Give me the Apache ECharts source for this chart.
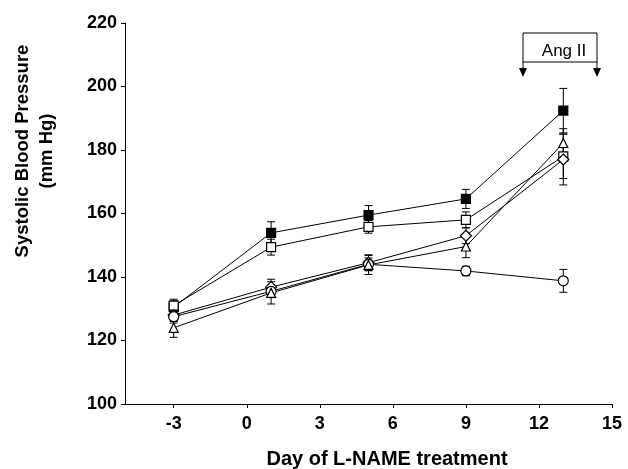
<!DOCTYPE html>
<html><head><meta charset="utf-8">
<script src="https://cdn.jsdelivr.net/npm/echarts@6/dist/echarts.min.js"></script>
<style>html,body{margin:0;padding:0;background:#fff}#c{width:628px;height:469px}</style>
</head><body><div id="c"></div>
<script>
var days = [-3, 1, 5, 9, 13];
var xTicks = [-3, 0, 3, 6, 9, 12, 15];
var filledSquare = [130.5, 153.9, 159.5, 164.6, 192.4];
var filledSquareErr = [2, 3.5, 3, 3, 7];
var openSquare = [131, 149.4, 155.8, 158, 178];
var openSquareErr = [2, 2.5, 2, 2.5, 7];
var diamond = [128, 136.8, 144.5, 153, 177];
var diamondErr = [2, 2.5, 2.5, 2.5, 8];
var circle = [127.5, 135.5, 144, 141.9, 138.8];
var circleErr = [2, 2, 2, 1.5, 3.6];
var triangle = [124, 135, 143.8, 149.6, 182.2];
var triangleErr = [3, 3.5, 3, 3.5, 4.5];

var groups = [
  {name:'LN', vals:filledSquare, err:filledSquareErr, symbol:'rect', size:9, fill:'#000'},
  {name:'LN2', vals:openSquare, err:openSquareErr, symbol:'rect', size:9, fill:'#fff'},
  {name:'LN3', vals:diamond, err:diamondErr, symbol:'diamond', size:11, fill:'#fff'},
  {name:'C', vals:circle, err:circleErr, symbol:'circle', size:10, fill:'#fff'},
  {name:'LN4', vals:triangle, err:triangleErr, symbol:'triangle', size:9, fill:'#fff'}
];

var series = [];
groups.forEach(function(g){
  var ebData = days.map(function(d,i){ return [d, g.vals[i]-g.err[i], g.vals[i]+g.err[i]]; });
  series.push({
    type:'custom', name:g.name+'_err', silent:true, z:1,
    data: ebData,
    encode:{x:0, y:[1,2]},
    renderItem:function(params, api){
      var x = api.value(0);
      var lo = api.coord([x, api.value(1)]);
      var hi = api.coord([x, api.value(2)]);
      var w = 4;
      var st = {stroke:'#000', lineWidth:1};
      return {type:'group', children:[
        {type:'line', shape:{x1:lo[0],y1:lo[1],x2:hi[0],y2:hi[1]}, style:st},
        {type:'line', shape:{x1:lo[0]-w,y1:lo[1],x2:lo[0]+w,y2:lo[1]}, style:st},
        {type:'line', shape:{x1:hi[0]-w,y1:hi[1],x2:hi[0]+w,y2:hi[1]}, style:st}
      ]};
    }
  });
  series.push({
    type:'line', name:g.name, z:3,
    data: days.map(function(d,i){ return [d, g.vals[i]]; }),
    symbol:g.symbol, symbolSize:g.size, showAllSymbol:true,
    lineStyle:{color:'#000', width:1},
    itemStyle:{color:g.fill, borderColor:'#000', borderWidth:1.2},
    emphasis:{disabled:true}, animation:false
  });
});

var chart = echarts.init(document.getElementById('c'));
chart.setOption({
  backgroundColor:'#fff',
  animation:false,
  grid:{left:125, right:16, top:23, bottom:65, containLabel:false},
  xAxis:{
    type:'value', min:-5, max:15,
    axisLine:{show:true, onZero:false, lineStyle:{color:'#000', width:1}},
    axisTick:{show:true, customValues:xTicks, length:4, lineStyle:{color:'#000'}},
    axisLabel:{customValues:xTicks, color:'#000', fontFamily:'Liberation Sans, Arial', fontWeight:'bold', fontSize:18, margin:11},
    splitLine:{show:false}
  },
  yAxis:{
    type:'value', min:100, max:220, interval:20,
    axisLine:{show:true, onZero:false, lineStyle:{color:'#000', width:1}},
    axisTick:{show:true, length:4, lineStyle:{color:'#000'}},
    axisLabel:{color:'#000', fontFamily:'Liberation Sans, Arial', fontWeight:'bold', fontSize:18, margin:8},
    splitLine:{show:false}
  },
  graphic:[
    {type:'text', style:{text:'Day of L-NAME treatment', x:387, y:459, textAlign:'center', textVerticalAlign:'middle', fill:'#000', font:'bold 20px "Liberation Sans", Arial'}},
    {type:'text', x:35, y:151, rotation:Math.PI/2, style:{text:'Systolic Blood Pressure\n(mm Hg)', textAlign:'center', textVerticalAlign:'middle', fill:'#000', font:'bold 18.5px "Liberation Sans", Arial', lineHeight:24}},
    {type:'rect', shape:{x:523, y:33, width:74, height:29}, style:{fill:'#fff', stroke:'#000', lineWidth:1}},
    {type:'text', style:{text:'Ang II', x:564, y:51, textAlign:'center', textVerticalAlign:'middle', fill:'#000', font:'17px "Liberation Sans", Arial'}},
    {type:'line', shape:{x1:523, y1:62, x2:523, y2:72}, style:{stroke:'#000', lineWidth:1}},
    {type:'line', shape:{x1:597, y1:62, x2:597, y2:72}, style:{stroke:'#000', lineWidth:1}},
    {type:'polygon', shape:{points:[[519,68],[527,68],[523,77]]}, style:{fill:'#000'}},
    {type:'polygon', shape:{points:[[593,68],[601,68],[597,77]]}, style:{fill:'#000'}}
  ],
  series:series
});
</script></body></html>
